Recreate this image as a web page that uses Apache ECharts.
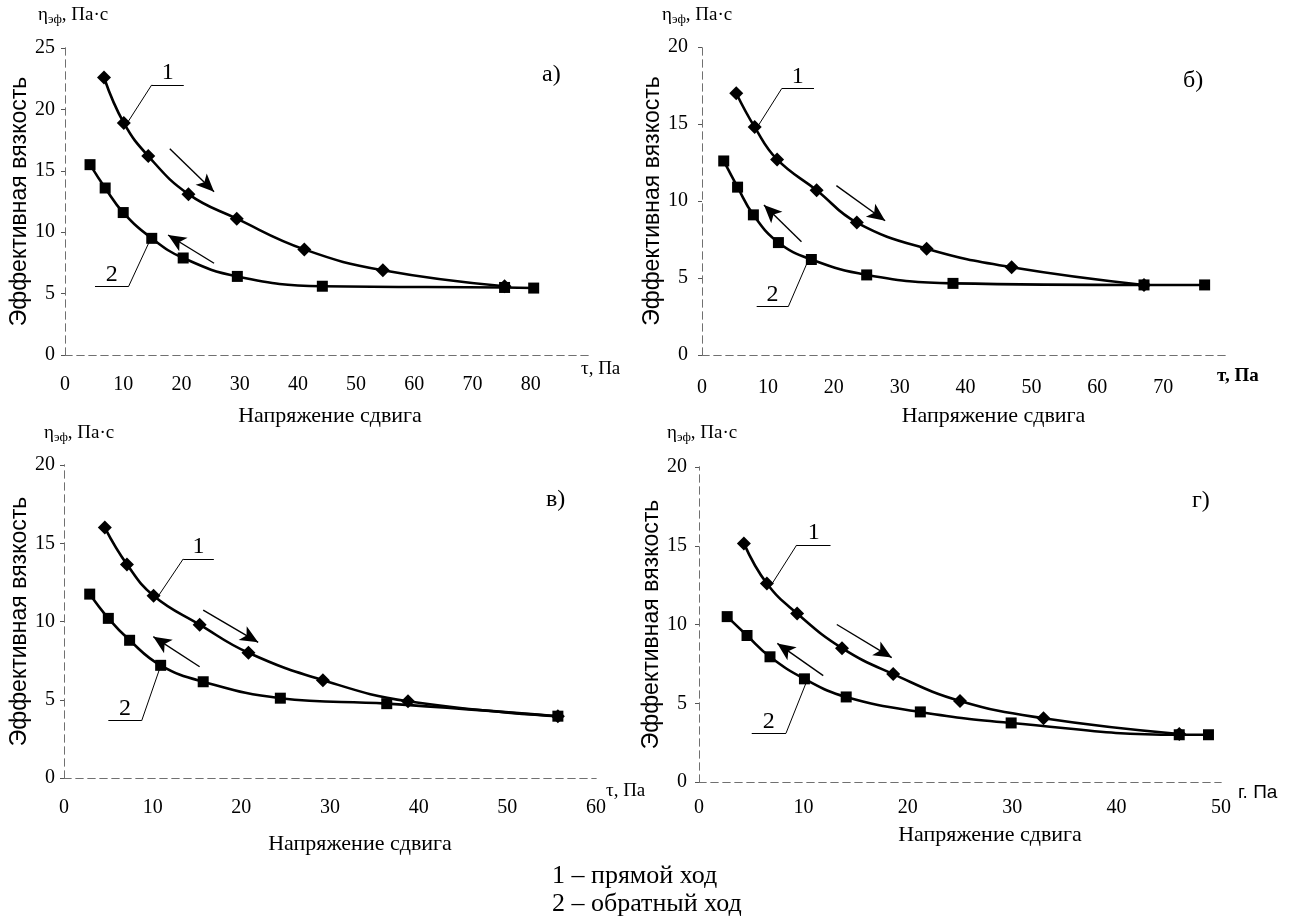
<!DOCTYPE html>
<html>
<head>
<meta charset="utf-8">
<title>Эффективная вязкость</title>
<script src="https://cdn.jsdelivr.net/npm/echarts@6/dist/echarts.min.js"></script>
<style>
  html, body { margin: 0; padding: 0; background: #fff; }
  #chart { width: 1296px; height: 918px; }
</style>
</head>
<body>
<div id="chart"></div>
<script>
// а) — прямой ход (1) и обратный ход (2)
const tauFwdA = [6.7, 10.1, 14.3, 21.2, 29.5, 41.1, 54.6, 75.5];
const etaFwdA = [22.6, 18.9, 16.2, 13.1, 11.1, 8.6, 6.9, 5.6];
const tauRevA = [4.3, 6.9, 10.0, 14.9, 20.3, 29.6, 44.2, 75.5, 80.5];
const etaRevA = [15.5, 13.6, 11.6, 9.5, 7.9, 6.4, 5.6, 5.5, 5.45];

// б)
const tauFwdB = [5.2, 8.0, 11.4, 17.4, 23.5, 34.1, 47.0, 67.1];
const etaFwdB = [17.0, 14.8, 12.7, 10.7, 8.6, 6.9, 5.7, 4.55];
const tauRevB = [3.3, 5.4, 7.8, 11.6, 16.6, 25.0, 38.1, 67.1, 76.3];
const etaRevB = [12.6, 10.9, 9.1, 7.3, 6.2, 5.2, 4.65, 4.55, 4.55];

// в)
const tauFwdC = [4.6, 7.1, 10.1, 15.3, 20.8, 29.2, 38.8, 55.7];
const etaFwdC = [16.0, 13.65, 11.65, 9.8, 8.0, 6.25, 4.9, 3.95];
const tauRevC = [2.9, 5.0, 7.4, 10.9, 15.7, 24.4, 36.4, 55.7];
const etaRevC = [11.75, 10.2, 8.8, 7.2, 6.15, 5.1, 4.75, 3.95];

// г)
const tauFwdD = [4.3, 6.5, 9.4, 13.7, 18.6, 25.0, 33.0, 46.0];
const etaFwdD = [15.15, 12.6, 10.7, 8.5, 6.85, 5.15, 4.05, 3.05];
const tauRevD = [2.7, 4.6, 6.8, 10.1, 14.1, 21.2, 29.9, 46.0, 48.8];
const etaRevD = [10.5, 9.3, 7.95, 6.55, 5.4, 4.45, 3.75, 3.0, 3.0];

// стрелки направления хода (в единицах осей): [начало, конец]
const arrowsA = [[[18.0, 16.8], [25.6, 13.3]], [[25.6, 7.47], [17.7, 9.77]]];
const arrowsB = [[[20.4, 11.0], [27.8, 8.72]], [[15.1, 7.36], [9.4, 9.74]]];
const arrowsC = [[[15.7, 10.73], [21.9, 8.67]], [[15.3, 7.11], [10.07, 9.03]]];
const arrowsD = [[[13.2, 10.0], [18.46, 7.9]], [[11.9, 6.75], [7.5, 8.8]]];

// выноски с номерами кривых: [точка на кривой, излом, конец полки]
const leadersA = [[[10.7, 18.9], [14.9, 22.0], [20.4, 22.0]], [[14.7, 9.45], [10.9, 5.56], [5.15, 5.56]]];
const leadersB = [[[8.4, 14.8], [12.1, 17.3], [17.0, 17.3]], [[16.1, 6.12], [13.1, 3.14], [8.3, 3.14]]];
const leadersC = [[[10.6, 11.6], [13.45, 14.0], [16.9, 14.0]], [[11.0, 7.33], [8.76, 3.66], [5.0, 3.66]]];
const leadersD = [[[6.96, 12.55], [9.36, 15.05], [12.6, 15.05]], [[10.3, 6.37], [8.33, 3.09], [5.05, 3.09]]];

const curveNames = ['1', '2'];

const SERIF = '"Liberation Serif", "DejaVu Serif", serif';
const SANS = '"Liberation Sans", "DejaVu Sans", sans-serif';

const frameLine = { color: '#707070', width: 1, type: [7, 5] };

const unitSerif = { color: '#000', fontFamily: SERIF, fontSize: 19 };

const panels = [
  {
    letter: 'а)', grid: { left: 65, top: 48, width: 524, height: 307 },
    xMax: 90, yMax: 25, hideLastX: true,
    fwd: [tauFwdA, etaFwdA], rev: [tauRevA, etaRevA], arrows: arrowsA, leaders: leadersA,
    unit: 'τ, Па', unitGap: -8, unitDrop: 5, unitStyle: unitSerif,
    xLabelMargin: 20, xNameGap: 50, xNameShift: 3, yLabelMargin: 10, yNameGap: 30,
    eta: [38, 6], letterPos: [542, 63]
  },
  {
    letter: 'б)', grid: { left: 702, top: 47, width: 527, height: 308 },
    xMax: 80, yMax: 20, hideLastX: true,
    fwd: [tauFwdB, etaFwdB], rev: [tauRevB, etaRevB], arrows: arrowsB, leaders: leadersB,
    unit: 'т, Па', unitGap: -12, unitDrop: 12, unitStyle: Object.assign({}, unitSerif, { fontWeight: 'bold' }),
    xLabelMargin: 23, xNameGap: 50, xNameShift: 28, yLabelMargin: 14, yNameGap: 34,
    eta: [662, 6], letterPos: [1183, 69]
  },
  {
    letter: 'в)', grid: { left: 64, top: 465, width: 532, height: 313 },
    xMax: 60, yMax: 20, hideLastX: false,
    fwd: [tauFwdC, etaFwdC], rev: [tauRevC, etaRevC], arrows: arrowsC, leaders: leadersC,
    unit: 'τ, Па', unitGap: 10, unitDrop: 4, unitStyle: unitSerif,
    xLabelMargin: 20, xNameGap: 55, xNameShift: 30, yLabelMargin: 9, yNameGap: 30,
    eta: [44, 424], letterPos: [546, 488]
  },
  {
    letter: 'г)', grid: { left: 699, top: 467, width: 522, height: 315 },
    xMax: 50, yMax: 20, hideLastX: false,
    fwd: [tauFwdD, etaFwdD], rev: [tauRevD, etaRevD], arrows: arrowsD, leaders: leadersD,
    unit: 'г. Па', unitGap: 17, unitDrop: 1, unitStyle: { color: '#000', fontFamily: SANS, fontSize: 19 },
    xLabelMargin: 16, xNameGap: 42, xNameShift: 30, yLabelMargin: 12, yNameGap: 36,
    eta: [667, 424], letterPos: [1192, 489]
  }
];

function zip(xs, ys) {
  return xs.map((x, k) => [x, ys[k]]);
}

function buildMarkLine(p) {
  const data = [];
  p.arrows.forEach(a => {
    data.push([
      { coord: a[0], symbol: 'none' },
      { coord: a[1], symbol: 'arrow', symbolSize: [12, 18] }
    ]);
  });
  p.leaders.forEach((l, k) => {
    data.push([{ coord: l[0], symbol: 'none', lineStyle: { width: 1 } }, { coord: l[1], symbol: 'none' }]);
    // полку рисуем слева направо, чтобы подпись не переворачивалась
    const left = l[1][0] < l[2][0] ? l[1] : l[2];
    const right = left === l[1] ? l[2] : l[1];
    data.push([
      {
        coord: left, symbol: 'none', lineStyle: { width: 1 },
        label: {
          show: true, position: 'insideMiddleTop', distance: 0, formatter: curveNames[k],
          color: '#000', fontFamily: SERIF, fontSize: 24
        }
      },
      { coord: right, symbol: 'none' }
    ]);
  });
  return {
    silent: true,
    animation: false,
    symbol: ['none', 'none'],
    lineStyle: { color: '#000', width: 1.4, type: 'solid' },
    label: { show: false },
    emphasis: { disabled: true },
    data: data
  };
}

const grid = [], xAxis = [], yAxis = [], series = [], graphic = [];

panels.forEach((p, i) => {
  grid.push(Object.assign({ show: false, outerBoundsMode: 'none' }, p.grid));

  xAxis.push({
    gridIndex: i, type: 'value', min: 0, max: p.xMax, interval: 10, position: 'bottom',
    axisLine: { show: true, onZero: false, lineStyle: frameLine },
    axisTick: { show: false }, splitLine: { show: false },
    axisLabel: {
      margin: p.xLabelMargin, color: '#000', fontFamily: SERIF, fontSize: 20,
      formatter: v => (p.hideLastX && v === p.xMax) ? '' : String(v)
    },
    name: 'Напряжение сдвига', nameLocation: 'middle', nameGap: p.xNameGap,
    nameTextStyle: { color: '#000', fontFamily: SERIF, fontSize: 22, padding: [0, 0, 0, p.xNameShift * 2] }
  });
  xAxis.push({
    gridIndex: i, type: 'value', min: 0, max: p.xMax, position: 'top',
    axisLine: { show: true, lineStyle: frameLine },
    axisTick: { show: false }, axisLabel: { show: false }, splitLine: { show: false }
  });
  xAxis.push({
    gridIndex: i, type: 'value', min: 0, max: p.xMax, position: 'bottom',
    axisLine: { show: false }, axisTick: { show: false }, axisLabel: { show: false }, splitLine: { show: false },
    name: p.unit, nameLocation: 'end', nameGap: p.unitGap,
    nameTextStyle: Object.assign({}, p.unitStyle, { verticalAlign: 'top', padding: [p.unitDrop, 0, 0, 0] })
  });

  yAxis.push({
    gridIndex: i, type: 'value', min: 0, max: p.yMax, interval: 5, position: 'left',
    axisLine: { show: true, onZero: false, lineStyle: frameLine },
    axisTick: { show: true, length: 4, lineStyle: { color: '#555' } },
    splitLine: { show: false },
    axisLabel: { margin: p.yLabelMargin, color: '#000', fontFamily: SERIF, fontSize: 20 },
    name: 'Эффективная вязкость', nameLocation: 'middle', nameGap: p.yNameGap,
    nameTextStyle: { color: '#000', fontFamily: SANS, fontSize: 23 }
  });
  yAxis.push({
    gridIndex: i, type: 'value', min: 0, max: p.yMax, position: 'right',
    axisLine: { show: true, lineStyle: frameLine },
    axisTick: { show: false }, axisLabel: { show: false }, splitLine: { show: false }
  });

  const common = {
    type: 'line', xAxisIndex: 3 * i, yAxisIndex: 2 * i,
    smooth: 0.45,
    lineStyle: { color: '#000', width: 2.6 },
    itemStyle: { color: '#000' },
    emphasis: { disabled: true },
    animation: false
  };
  series.push(Object.assign({}, common, {
    name: '1 – прямой ход', data: zip(p.fwd[0], p.fwd[1]),
    symbol: 'diamond', symbolSize: 14, markLine: buildMarkLine(p)
  }));
  series.push(Object.assign({}, common, {
    name: '2 – обратный ход', data: zip(p.rev[0], p.rev[1]),
    symbol: 'rect', symbolSize: 11
  }));

  graphic.push({
    type: 'text', left: p.eta[0], top: p.eta[1],
    style: {
      text: '{a|η}{b|эф}{a|, Па·с}',
      rich: {
        a: { fontFamily: SERIF, fontSize: 19, fill: '#000' },
        b: { fontFamily: SERIF, fontSize: 13, fill: '#000', padding: [8, 0, 0, 0] }
      }
    }
  });
  graphic.push({
    type: 'text', left: p.letterPos[0], top: p.letterPos[1],
    style: { text: p.letter, fontFamily: SERIF, fontSize: 24, fill: '#000' }
  });
});

graphic.push({
  type: 'text', left: 552, top: 863,
  style: { text: '1 – прямой ход', fontFamily: SERIF, fontSize: 26, fill: '#000' }
});
graphic.push({
  type: 'text', left: 552, top: 891,
  style: { text: '2 – обратный ход', fontFamily: SERIF, fontSize: 26, fill: '#000' }
});

const chart = echarts.init(document.getElementById('chart'), null, { renderer: 'canvas' });
chart.setOption({
  backgroundColor: '#fff',
  animation: false,
  grid: grid,
  xAxis: xAxis,
  yAxis: yAxis,
  series: series,
  graphic: graphic
});
</script>
</body>
</html>
